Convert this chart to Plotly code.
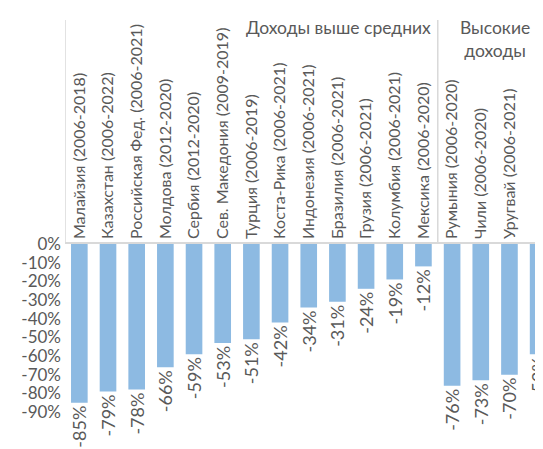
import plotly.graph_objects as go

categories = [
    "Малайзия (2006-2018)", "Казахстан (2006-2022)", "Российская Фед. (2006-2021)",
    "Молдова (2012-2020)", "Сербия (2012-2020)", "Сев. Македония (2009-2019)",
    "Турция (2006-2019)", "Коста-Рика (2006-2021)", "Индонезия (2006-2021)",
    "Бразилия (2006-2021)", "Грузия (2006-2021)", "Колумбия (2006-2021)",
    "Мексика (2006-2020)",
    "Румыния (2006-2020)", "Чили (2006-2020)", "Уругвай (2006-2021)", "Хорватия (2009-2020)",
]
values = [-85, -79, -78, -66, -59, -53, -51, -42, -34, -31, -24, -19, -12, -76, -73, -70, -59]
groups = ["Доходы выше средних", "Высокие<br>доходы"]
group_sizes = [13, 4]
y_ticks = [0, -10, -20, -30, -40, -50, -60, -70, -80, -90]

GRAY = "#595959"
LINE = "#d9d9d9"
FONT = "Lato"

fig = go.Figure()
fig.add_bar(
    x=list(range(len(categories))),
    y=[v / 100 for v in values],
    marker=dict(color="#8dbae2", line=dict(width=0)),
    width=0.58,
    text=[f"{v}%" for v in values],
    textposition="outside",
    textangle=-90,
    constraintext="none",
    cliponaxis=False,
    textfont=dict(family=FONT, size=18, color=GRAY),
)

# group separators (category boundaries)
start = 0
bounds = [start - 0.5]
for s in group_sizes:
    start += s
    bounds.append(start - 0.5)
shapes = []
for b in bounds[:-1]:
    shapes.append(dict(type="line", xref="x", yref="paper", x0=b, x1=b, y0=1, y1=2.333,
                       line=dict(color=LINE, width=1.5)))

annotations = [
    dict(text=groups[0], xref="x", yref="paper", x=bounds[1], xshift=-5, y=2.286,
         xanchor="right", yanchor="middle", showarrow=False,
         font=dict(family=FONT, size=17.5, color=GRAY)),
    dict(text=groups[1], xref="x", yref="paper", x=(bounds[1] + bounds[2]) / 2, y=2.362,
         xanchor="center", yanchor="top", showarrow=False,
         font=dict(family=FONT, size=17.5, color=GRAY)),
]

fig.update_layout(
    width=535, height=441,
    margin=dict(l=57, r=0, t=236, b=37, pad=0),
    paper_bgcolor="white", plot_bgcolor="white",
    showlegend=False,
    shapes=shapes,
    annotations=annotations,
    xaxis=dict(
        side="top", range=[-0.5, 16.17],
        tickmode="array", tickvals=list(range(len(categories))), ticktext=categories,
        tickangle=-90, showgrid=False, zeroline=False,
        showline=True, linecolor=LINE, linewidth=1.5,
        tickfont=dict(family=FONT, size=16, color=GRAY),
        ticks="", ticklen=0,
    ),
    yaxis=dict(
        range=[-0.9, 0], tickmode="array", tickvals=[t / 100 for t in y_ticks],
        ticktext=[f"{t}%" for t in y_ticks], showgrid=False, zeroline=False,
        showline=False, tickfont=dict(family=FONT, size=17, color=GRAY),
        ticks="", ticklabelstandoff=3,
    ),
)
fig.write_html("out.html")
